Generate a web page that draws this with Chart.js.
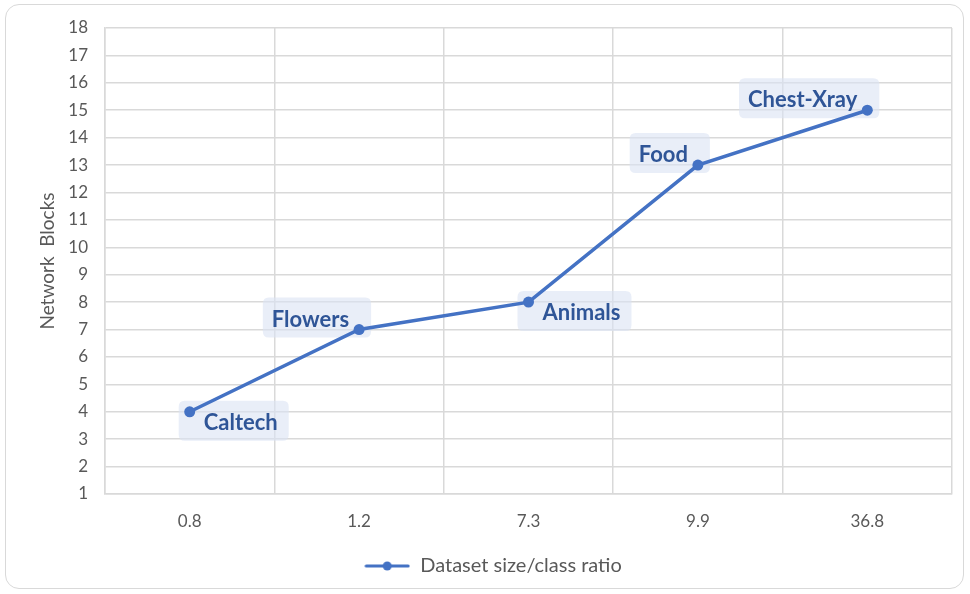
<!DOCTYPE html>
<html>
<head>
<meta charset="utf-8">
<title>Network Blocks</title>
<script src="https://cdn.jsdelivr.net/npm/chart.js@4.4.1/dist/chart.umd.min.js"></script>
<style>
    html, body { margin: 0; padding: 0; background: #ffffff; }
    #frame {
        position: absolute; left: 5px; top: 4px; width: 959px; height: 585px;
        border: 1.5px solid #d9d9d9; border-radius: 14px; box-sizing: border-box;
    }
    #chart { position: absolute; left: 0; top: 0; }
</style>
</head>
<body>
<div id="frame"></div>
<canvas id="chart" width="970" height="594"></canvas>
<script>
// Datos
const ratios = ['0.8', '1.2', '7.3', '9.9', '36.8'];
const networkBlocks = [4, 7, 8, 13, 15];
const datasetNames = ['Caltech', 'Flowers', 'Animals', 'Food', 'Chest-Xray'];
const yTicks = { min: 1, max: 18, step: 1 };

const LINE_BLUE = '#4472C4';
const LABEL_BLUE = '#2F5597';
const GRID = '#d9d9d9';
const TEXT_GRAY = '#595959';

// Icono de leyenda: línea con punto
function legendIcon() {
    const c = document.createElement('canvas');
    c.width = 46; c.height = 12;
    const g = c.getContext('2d');
    g.strokeStyle = LINE_BLUE;
    g.lineWidth = 3;
    g.lineCap = 'round';
    g.beginPath(); g.moveTo(2, 6); g.lineTo(44, 6); g.stroke();
    g.fillStyle = LINE_BLUE;
    g.beginPath(); g.arc(23, 6, 4.5, 0, Math.PI * 2); g.fill();
    return c;
}

function roundedRect(ctx, x, y, w, h, r) {
    ctx.beginPath();
    ctx.moveTo(x + r, y);
    ctx.lineTo(x + w - r, y);
    ctx.quadraticCurveTo(x + w, y, x + w, y + r);
    ctx.lineTo(x + w, y + h - r);
    ctx.quadraticCurveTo(x + w, y + h, x + w - r, y + h);
    ctx.lineTo(x + r, y + h);
    ctx.quadraticCurveTo(x, y + h, x, y + h - r);
    ctx.lineTo(x, y + r);
    ctx.quadraticCurveTo(x, y, x + r, y);
    ctx.closePath();
}

// Etiquetas con fondo junto a cada punto
const pointLabels = {
    id: 'pointLabels',
    afterLayout(chart) {
        // correr la leyenda un poco a la derecha
        chart.legend.left += 17;
        chart.legend.right += 17;
    },
    beforeDatasetsDraw(chart, args, opts) {
        const ctx = chart.ctx;
        const meta = chart.getDatasetMeta(0);
        ctx.save();
        ctx.font = opts.font;
        ctx.textBaseline = 'middle';
        ctx.textAlign = 'left';
        meta.data.forEach((pt, i) => {
            const text = opts.labels[i];
            const side = opts.sides[i];
            const w = ctx.measureText(text).width;
            let tx, ty, padL, padR;
            if (side === 'right') {
                tx = pt.x + 14; ty = pt.y + 10; padL = 25; padR = 11;
            } else {
                tx = pt.x - 10 - w; ty = pt.y - 11; padL = 9; padR = 22;
            }
            ctx.fillStyle = opts.background;
            roundedRect(ctx, tx - padL, ty - 21, w + padL + padR, 40, 6);
            ctx.fill();
            ctx.fillStyle = opts.color;
            ctx.fillText(text, tx, ty + 1);
        });
        ctx.restore();
    }
};

function buildChart() {
    Chart.defaults.font.family = 'Lato, "Open Sans", sans-serif';
    Chart.defaults.color = TEXT_GRAY;

    new Chart(document.getElementById('chart'), {
        type: 'line',
        data: {
            labels: ratios,
            datasets: [{
                label: 'Dataset size/class ratio',
                data: networkBlocks,
                borderColor: LINE_BLUE,
                backgroundColor: LINE_BLUE,
                borderWidth: 3.5,
                pointRadius: 5.5,
                pointStyle: 'circle',
                pointBackgroundColor: LINE_BLUE,
                pointBorderWidth: 0,
                tension: 0
            }]
        },
        options: {
            responsive: false,
            animation: false,
            layout: { padding: { top: 28, right: 18, left: 0, bottom: 8 } },
            scales: {
                x: {
                    offset: true,
                    grid: { offset: true, color: GRID, lineWidth: 1.5, drawTicks: false },
                    border: { color: GRID, width: 1.5 },
                    ticks: { padding: 17, font: { size: 17 }, color: TEXT_GRAY },
                    afterFit: (scale) => { scale.height = 50; }
                },
                y: {
                    min: yTicks.min,
                    max: yTicks.max,
                    grid: { color: GRID, lineWidth: 1.5, drawTicks: false },
                    border: { color: GRID, width: 1.5 },
                    ticks: { stepSize: yTicks.step, padding: 17, font: { size: 17 }, color: TEXT_GRAY },
                    title: {
                        display: true,
                        text: 'Network  Blocks',
                        color: TEXT_GRAY,
                        font: { size: 19 },
                        padding: { top: 36, bottom: 0 }
                    },
                    afterFit: (scale) => { scale.width = 105; }
                }
            },
            plugins: {
                legend: {
                    position: 'bottom',
                    labels: {
                        usePointStyle: true,
                        pointStyleWidth: 46,
                        color: TEXT_GRAY,
                        font: { size: 20 },
                        padding: 12,
                        generateLabels: (chart) => [{
                            text: chart.data.datasets[0].label,
                            pointStyle: legendIcon(),
                            fillStyle: LINE_BLUE,
                            strokeStyle: LINE_BLUE,
                            lineWidth: 0,
                            fontColor: TEXT_GRAY,
                            datasetIndex: 0
                        }]
                    }
                },
                tooltip: { enabled: false },
                pointLabels: {
                    labels: datasetNames,
                    sides: ['right', 'left', 'right', 'left', 'left'],
                    font: 'bold 22px Lato, "Open Sans", sans-serif',
                    color: LABEL_BLUE,
                    background: 'rgba(218, 227, 243, 0.6)'
                }
            }
        },
        plugins: [pointLabels]
    });
}

document.fonts.load('bold 22px Lato').then(buildChart, buildChart);
</script>
</body>
</html>
